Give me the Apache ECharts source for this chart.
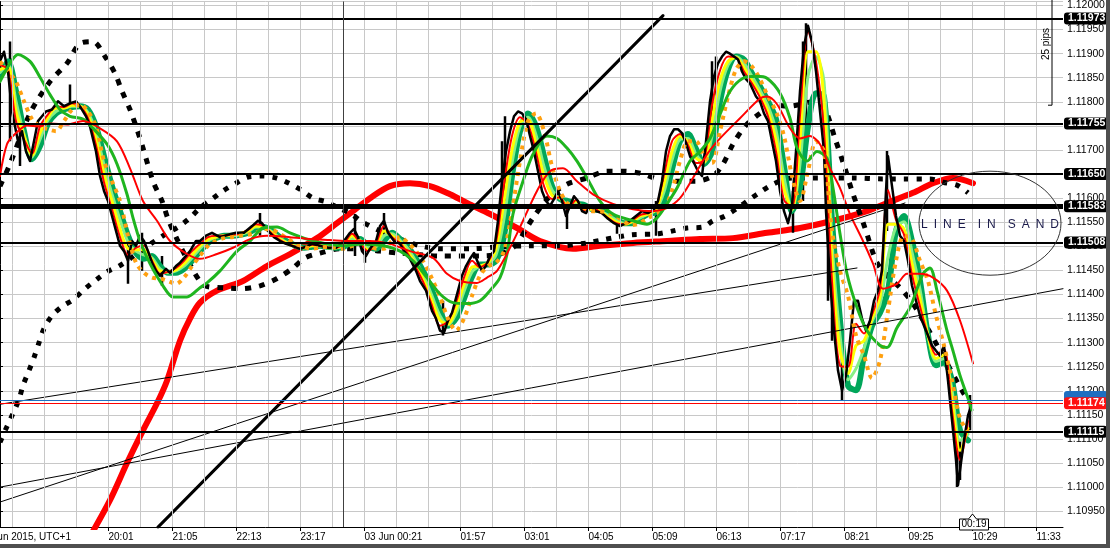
<!DOCTYPE html>
<html><head><meta charset="utf-8">
<script src="https://cdn.jsdelivr.net/npm/echarts@6/dist/echarts.min.js"></script>
<style>html,body{margin:0;padding:0;background:#fff;overflow:hidden}#c{width:1110px;height:548px}</style>
</head><body><div id="c"></div>
<script>
// ---------------- DATA ----------------
const FONT = "'Liberation Sans', Arial, sans-serif";
const Y_MIN = 1.1091718, Y_MAX = 1.1200828;
const X_MIN = 0, X_MAX = 1063;

const timeTickBars = [108.5,172.5,236.5,300.5,364.5,460.5,524.5,588.5,652.5,716.5,780.5,844.5,908.5,972.5,1036.5];
const timeTickLabels = ['20:01','21:05','22:13','23:17','03 Jun 00:21','01:57','03:01','04:05','05:09','06:13','07:17','08:21','09:25','10:29','11:33'];
const gridFirstBar = 12.5, gridStepBars = 32;

// horizontal levels
const levelPrices = [1.11973, 1.11755, 1.11650, 1.11583, 1.11508, 1.11115];
const levelWidths = [2, 2, 2, 5, 2, 2];
const bidPrice = 1.11174, askPrice = 1.11181;
const daySeparatorBar = 343;

// price (close path, M1)
const priceData = [[0,1.11884],[4,1.11904],[8,1.11863],[12,1.11780],[18,1.11718],[22,1.11739],[26,1.11697],[30,1.11677],[34,1.11718],[38,1.11760],[42,1.11770],[46,1.11780],[52,1.11784],[58,1.11801],[64,1.11791],[70,1.11797],[76,1.11801],[82,1.11784],[86,1.11770],[90,1.11749],[96,1.11697],[100,1.11646],[104,1.11615],[108,1.11594],[112,1.11563],[116,1.11532],[120,1.11501],[124,1.11490],[128,1.11470],[132,1.11511],[136,1.11501],[140,1.11522],[144,1.11511],[148,1.11490],[152,1.11466],[156,1.11449],[160,1.11439],[166,1.11453],[170,1.11445],[176,1.11459],[180,1.11466],[186,1.11480],[190,1.11490],[196,1.11511],[200,1.11511],[206,1.11522],[212,1.11528],[220,1.11519],[228,1.11524],[236,1.11528],[244,1.11528],[252,1.11542],[258,1.11553],[262,1.11548],[268,1.11532],[274,1.11519],[280,1.11511],[286,1.11505],[292,1.11501],[300,1.11495],[306,1.11499],[312,1.11505],[320,1.11501],[328,1.11497],[336,1.11497],[344,1.11511],[350,1.11528],[354,1.11536],[358,1.11519],[362,1.11490],[366,1.11480],[370,1.11495],[376,1.11511],[380,1.11542],[384,1.11553],[388,1.11528],[394,1.11511],[400,1.11505],[404,1.11490],[410,1.11474],[416,1.11449],[420,1.11428],[426,1.11408],[432,1.11366],[436,1.11350],[440,1.11325],[444,1.11321],[448,1.11346],[452,1.11362],[458,1.11408],[462,1.11439],[466,1.11459],[470,1.11474],[474,1.11486],[478,1.11466],[482,1.11449],[486,1.11459],[490,1.11480],[494,1.11490],[498,1.11553],[502,1.11635],[506,1.11697],[510,1.11739],[514,1.11770],[518,1.11780],[522,1.11776],[526,1.11764],[530,1.11729],[534,1.11697],[538,1.11656],[542,1.11615],[546,1.11594],[550,1.11584],[554,1.11598],[558,1.11615],[562,1.11594],[566,1.11563],[570,1.11584],[574,1.11604],[578,1.11594],[582,1.11573],[586,1.11569],[590,1.11584],[596,1.11573],[602,1.11569],[608,1.11557],[614,1.11548],[620,1.11542],[626,1.11548],[630,1.11553],[636,1.11563],[642,1.11573],[648,1.11569],[654,1.11577],[658,1.11594],[662,1.11635],[666,1.11697],[670,1.11729],[674,1.11743],[678,1.11743],[682,1.11735],[686,1.11714],[690,1.11687],[694,1.11673],[698,1.11656],[702,1.11646],[706,1.11718],[710,1.11801],[714,1.11853],[718,1.11880],[722,1.11894],[726,1.11904],[730,1.11900],[734,1.11894],[738,1.11888],[742,1.11863],[746,1.11847],[750,1.11838],[756,1.11811],[760,1.11801],[764,1.11776],[768,1.11760],[772,1.11718],[776,1.11677],[780,1.11615],[784,1.11573],[788,1.11548],[792,1.11584],[796,1.11697],[800,1.11822],[804,1.11915],[808,1.11958],[812,1.11925],[816,1.11863],[820,1.11780],[824,1.11697],[826,1.11573],[830,1.11428],[834,1.11325],[838,1.11242],[842,1.11201],[846,1.11232],[850,1.11304],[854,1.11387],[858,1.11387],[862,1.11350],[866,1.11325],[870,1.11346],[874,1.11387],[878,1.11408],[882,1.11449],[886,1.11615],[888,1.11687],[892,1.11625],[896,1.11563],[900,1.11522],[904,1.11511],[908,1.11470],[912,1.11418],[916,1.11387],[920,1.11356],[924,1.11335],[928,1.11315],[932,1.11294],[936,1.11283],[940,1.11273],[944,1.11294],[948,1.11221],[952,1.11139],[956,1.11056],[958,1.11004],[960,1.11035],[964,1.11097],[968,1.11149],[972,1.11174]];
// bar high/low spikes [bar, high, low]
const priceWicks = [[10,1.11925,1.11718],[20,1.11760,1.11667],[70,1.11836,1.11780],[128,1.11511,1.11422],[142,1.11528,1.11449],[162,1.11480,1.11418],[260,1.11569,1.11522],[355,1.11567,1.11480],[365,1.11511,1.11466],[384,1.11569,1.11511],[443,1.11387,1.11315],[502,1.11718,1.11490],[505,1.11770,1.11594],[567,1.11594,1.11536],[617,1.11563,1.11526],[656,1.11594,1.11522],[712,1.11884,1.11698],[716,1.11894,1.11780],[793,1.11615,1.11528],[803,1.11925,1.11594],[806,1.11963,1.11698],[828,1.11698,1.11387],[832,1.11553,1.11304],[842,1.11284,1.11180],[887,1.11698,1.11532],[957,1.11118,1.11000],[960,1.11097,1.11015],[970,1.11191,1.11118]];

// fast ribbon averages, sampled every 8 bars from bar 0
const ribbonRed = [1.11876,1.11867,1.11760,1.11722,1.11693,1.11749,1.11774,1.11791,1.11789,1.11797,1.11791,1.11766,1.11710,1.11633,1.11577,1.11519,1.11482,1.11497,1.11501,1.11470,1.11443,1.11447,1.11455,1.11470,1.11490,1.11505,1.11519,1.11522,1.11522,1.11524,1.11526,1.11534,1.11546,1.11542,1.11526,1.11513,1.11505,1.11499,1.11497,1.11503,1.11501,1.11497,1.11497,1.11507,1.11526,1.11507,1.11490,1.11507,1.11542,1.11519,1.11507,1.11484,1.11455,1.11422,1.11377,1.11335,1.11344,1.11383,1.11435,1.11470,1.11457,1.11468,1.11509,1.11629,1.11729,1.11768,1.11753,1.11695,1.11625,1.11598,1.11602,1.11577,1.11596,1.11575,1.11580,1.11571,1.11559,1.11548,1.11546,1.11553,1.11565,1.11569,1.11582,1.11648,1.11718,1.11733,1.11710,1.11673,1.11679,1.11793,1.11865,1.11894,1.11892,1.11863,1.11838,1.11809,1.11770,1.11697,1.11596,1.11582,1.11772,1.11946,1.11884,1.11739,1.11428,1.11252,1.11250,1.11339,1.11319,1.11358,1.11412,1.11617,1.11555,1.11524,1.11441,1.11375,1.11315,1.11275,1.11286,1.11159,1.11056,1.11137];
const ribbonYellow = [1.11867,1.11873,1.11780,1.11729,1.11689,1.11735,1.11768,1.11787,1.11787,1.11793,1.11791,1.11772,1.11722,1.11650,1.11594,1.11536,1.11495,1.11493,1.11493,1.11472,1.11449,1.11447,1.11451,1.11464,1.11482,1.11501,1.11515,1.11519,1.11522,1.11524,1.11526,1.11532,1.11542,1.11540,1.11528,1.11515,1.11505,1.11499,1.11497,1.11501,1.11501,1.11497,1.11497,1.11505,1.11522,1.11509,1.11493,1.11503,1.11532,1.11522,1.11509,1.11488,1.11462,1.11428,1.11387,1.11346,1.11339,1.11370,1.11420,1.11457,1.11459,1.11466,1.11495,1.11594,1.11700,1.11758,1.11762,1.11712,1.11646,1.11606,1.11600,1.11584,1.11594,1.11577,1.11577,1.11573,1.11561,1.11551,1.11546,1.11551,1.11563,1.11567,1.11577,1.11629,1.11697,1.11729,1.11716,1.11683,1.11675,1.11762,1.11844,1.11884,1.11892,1.11871,1.11844,1.11815,1.11780,1.11720,1.11619,1.11577,1.11720,1.11904,1.11904,1.11801,1.11470,1.11283,1.11236,1.11294,1.11304,1.11350,1.11395,1.11546,1.11546,1.11536,1.11464,1.11391,1.11315,1.11267,1.11275,1.11180,1.11076,1.11122];
const ribbonLightGreen = [1.11861,1.11878,1.11801,1.11733,1.11685,1.11722,1.11762,1.11780,1.11787,1.11791,1.11791,1.11778,1.11737,1.11669,1.11608,1.11555,1.11509,1.11490,1.11482,1.11476,1.11453,1.11445,1.11449,1.11459,1.11476,1.11495,1.11511,1.11519,1.11522,1.11522,1.11524,1.11530,1.11540,1.11540,1.11530,1.11517,1.11507,1.11501,1.11497,1.11501,1.11501,1.11499,1.11497,1.11501,1.11515,1.11513,1.11497,1.11499,1.11522,1.11526,1.11513,1.11495,1.11468,1.11437,1.11397,1.11356,1.11337,1.11360,1.11406,1.11447,1.11459,1.11464,1.11482,1.11557,1.11673,1.11749,1.11768,1.11731,1.11666,1.11617,1.11600,1.11588,1.11590,1.11582,1.11577,1.11573,1.11565,1.11555,1.11548,1.11551,1.11559,1.11567,1.11575,1.11613,1.11679,1.11722,1.11724,1.11691,1.11673,1.11729,1.11822,1.11876,1.11894,1.11880,1.11853,1.11824,1.11791,1.11741,1.11644,1.11575,1.11671,1.11853,1.11894,1.11842,1.11511,1.11315,1.11223,1.11246,1.11288,1.11344,1.11379,1.11478,1.11540,1.11551,1.11488,1.11410,1.11315,1.11261,1.11267,1.11201,1.11097,1.11110];
const ribbonDarkGreen = [1.11853,1.11884,1.11822,1.11739,1.11681,1.11708,1.11755,1.11776,1.11784,1.11789,1.11791,1.11784,1.11749,1.11687,1.11625,1.11573,1.11522,1.11486,1.11474,1.11480,1.11459,1.11445,1.11445,1.11453,1.11470,1.11490,1.11507,1.11517,1.11522,1.11522,1.11524,1.11528,1.11536,1.11540,1.11532,1.11519,1.11509,1.11501,1.11497,1.11499,1.11501,1.11499,1.11497,1.11499,1.11511,1.11515,1.11501,1.11495,1.11511,1.11528,1.11515,1.11499,1.11474,1.11445,1.11408,1.11366,1.11335,1.11350,1.11391,1.11437,1.11462,1.11462,1.11470,1.11522,1.11646,1.11739,1.11776,1.11749,1.11687,1.11625,1.11598,1.11594,1.11588,1.11586,1.11577,1.11575,1.11567,1.11557,1.11548,1.11548,1.11557,1.11567,1.11571,1.11594,1.11660,1.11718,1.11733,1.11702,1.11671,1.11697,1.11801,1.11867,1.11894,1.11888,1.11859,1.11832,1.11801,1.11764,1.11666,1.11573,1.11621,1.11749,1.11818,1.11811,1.11553,1.11346,1.11211,1.11201,1.11273,1.11335,1.11362,1.11408,1.11532,1.11563,1.11511,1.11428,1.11315,1.11253,1.11259,1.11221,1.11118,1.11097];
const ribbonOrange = [1.11884,1.11863,1.11842,1.11801,1.11764,1.11749,1.11743,1.11739,1.11760,1.11784,1.11795,1.11780,1.11749,1.11677,1.11635,1.11594,1.11522,1.11466,1.11445,1.11435,1.11433,1.11428,1.11422,1.11435,1.11459,1.11480,1.11501,1.11511,1.11517,1.11519,1.11522,1.11524,1.11528,1.11536,1.11534,1.11526,1.11515,1.11505,1.11499,1.11495,1.11497,1.11499,1.11497,1.11495,1.11501,1.11511,1.11507,1.11495,1.11495,1.11511,1.11519,1.11507,1.11490,1.11466,1.11433,1.11395,1.11350,1.11325,1.11350,1.11397,1.11439,1.11459,1.11466,1.11490,1.11573,1.11677,1.11760,1.11776,1.11739,1.11666,1.11615,1.11588,1.11584,1.11580,1.11573,1.11573,1.11569,1.11563,1.11551,1.11544,1.11548,1.11559,1.11567,1.11577,1.11615,1.11677,1.11718,1.11718,1.11687,1.11673,1.11739,1.11811,1.11867,1.11884,1.11873,1.11847,1.11811,1.11780,1.11729,1.11646,1.11594,1.11656,1.11718,1.11697,1.11532,1.11449,1.11397,1.11315,1.11273,1.11226,1.11263,1.11366,1.11470,1.11522,1.11515,1.11470,1.11428,1.11356,1.11294,1.11221,1.11143,1.11114];

// slower averages [bar, price]
const greenMid = [[0,1.11842],[10,1.11880],[18,1.11898],[30,1.11884],[40,1.11851],[50,1.11815],[60,1.11784],[70,1.11770],[83,1.11764],[93,1.11745],[107,1.11712],[117,1.11671],[127,1.11608],[133,1.11559],[140,1.11511],[150,1.11464],[163,1.11418],[173,1.11395],[187,1.11395],[200,1.11414],[207,1.11424],[220,1.11449],[237,1.11490],[250,1.11511],[263,1.11538],[277,1.11540],[290,1.11528],[307,1.11515],[327,1.11505],[343,1.11501],[363,1.11505],[383,1.11501],[400,1.11490],[413,1.11470],[427,1.11435],[440,1.11401],[453,1.11383],[467,1.11381],[480,1.11387],[490,1.11408],[500,1.11435],[507,1.11484],[513,1.11567],[523,1.11635],[533,1.11691],[547,1.11729],[557,1.11724],[567,1.11704],[577,1.11677],[587,1.11642],[600,1.11594],[613,1.11567],[633,1.11553],[647,1.11546],[657,1.11559],[667,1.11588],[677,1.11621],[690,1.11677],[700,1.11697],[710,1.11724],[720,1.11774],[730,1.11822],[743,1.11849],[757,1.11853],[767,1.11849],[780,1.11818],[790,1.11766],[797,1.11704],[807,1.11677],[817,1.11697],[827,1.11683],[833,1.11621],[840,1.11526],[847,1.11443],[857,1.11373],[867,1.11325],[880,1.11294],[887,1.11290],[897,1.11331],[910,1.11373],[923,1.11443],[930,1.11455],[937,1.11408],[947,1.11325],[953,1.11283],[960,1.11232],[967,1.11190],[972,1.11160]];
const redSlow = [[0,1.11646],[7,1.11712],[15,1.11733],[27,1.11751],[40,1.11749],[50,1.11755],[67,1.11753],[83,1.11760],[100,1.11745],[117,1.11718],[130,1.11662],[143,1.11594],[157,1.11553],[170,1.11511],[187,1.11484],[200,1.11474],[217,1.11484],[233,1.11497],[250,1.11515],[267,1.11522],[290,1.11519],[310,1.11515],[330,1.11513],[350,1.11511],[370,1.11511],[390,1.11505],[410,1.11490],[433,1.11476],[447,1.11443],[460,1.11428],[477,1.11424],[487,1.11435],[497,1.11449],[510,1.11497],[523,1.11553],[537,1.11615],[550,1.11656],[563,1.11662],[577,1.11635],[593,1.11608],[613,1.11588],[633,1.11577],[653,1.11573],[667,1.11580],[680,1.11600],[693,1.11642],[707,1.11691],[720,1.11724],[740,1.11766],[760,1.11807],[767,1.11811],[777,1.11795],[790,1.11745],[800,1.11724],[810,1.11729],[820,1.11712],[830,1.11662],[840,1.11621],[850,1.11567],[863,1.11511],[873,1.11464],[883,1.11412],[897,1.11422],[907,1.11443],[920,1.11443],[933,1.11435],[947,1.11408],[960,1.11346],[973,1.11257]];
const redThick = [[88,1.10890],[110,1.10973],[127,1.11050],[143,1.11118],[157,1.11174],[167,1.11221],[180,1.11304],[190,1.11350],[200,1.11383],[217,1.11408],[243,1.11428],[267,1.11459],[290,1.11484],[317,1.11517],[337,1.11548],[353,1.11573],[370,1.11600],[390,1.11625],[410,1.11631],[430,1.11625],[450,1.11608],[467,1.11590],[490,1.11567],[517,1.11538],[540,1.11511],[573,1.11495],[600,1.11501],[633,1.11507],[667,1.11511],[700,1.11515],[733,1.11517],[767,1.11528],[800,1.11538],[833,1.11553],[867,1.11573],[887,1.11590],[913,1.11611],[933,1.11631],[953,1.11642],[973,1.11631]];
const blackDotSlow = [[0,1.11093],[7,1.11126],[13,1.11153],[19,1.11182],[23,1.11211],[29,1.11242],[34,1.11269],[39,1.11300],[44,1.11329],[52,1.11356],[62,1.11375],[73,1.11389],[85,1.11412],[96,1.11430],[107,1.11447],[119,1.11459],[130,1.11474],[142,1.11493],[155,1.11511],[166,1.11526],[178,1.11540],[190,1.11559],[200,1.11580],[212,1.11598],[223,1.11615],[236,1.11631],[248,1.11644],[263,1.11646],[276,1.11642],[289,1.11631],[301,1.11617],[313,1.11600],[327,1.11592],[338,1.11580],[350,1.11569],[362,1.11551],[380,1.11532],[400,1.11515],[420,1.11501],[440,1.11495],[470,1.11495],[500,1.11499],[530,1.11501],[560,1.11501],[587,1.11507],[602,1.11513],[617,1.11519],[632,1.11524],[658,1.11526],[673,1.11532],[687,1.11538],[703,1.11540],[713,1.11553],[725,1.11563],[738,1.11580],[750,1.11598],[762,1.11615],[773,1.11629],[786,1.11640],[800,1.11642],[830,1.11642],[853,1.11642],[883,1.11640],[913,1.11640],[930,1.11640],[943,1.11633],[957,1.11627],[968,1.11611]];
const blackDotFast = [[0,1.11625],[10,1.11671],[30,1.11776],[50,1.11842],[67,1.11880],[80,1.11921],[93,1.11925],[105,1.11894],[115,1.11859],[122,1.11822],[130,1.11784],[137,1.11743],[143,1.11704],[153,1.11635],[162,1.11594],[168,1.11557],[177,1.11515],[188,1.11470],[205,1.11418],[222,1.11414],[242,1.11412],[260,1.11418],[277,1.11433],[293,1.11455],[305,1.11476],[320,1.11486],[340,1.11495],[360,1.11495],[380,1.11490],[400,1.11486],[440,1.11480],[480,1.11480],[500,1.11484],[515,1.11501],[533,1.11559],[550,1.11604],[567,1.11629],[587,1.11642],[607,1.11656],[622,1.11656],[640,1.11652],[657,1.11640],[675,1.11635],[695,1.11635],[713,1.11646],[723,1.11671],[733,1.11712],[745,1.11749],[760,1.11776],[775,1.11793],[790,1.11791],[805,1.11797],[815,1.11801],[825,1.11784],[835,1.11724],[845,1.11662],[852,1.11615],[865,1.11538],[877,1.11466],[890,1.11433],[900,1.11414],[913,1.11381],[930,1.11321],[947,1.11257],[963,1.11197],[970,1.11176]];

// trend lines [bar, price]
const trendThick = [[158,1.10917],[663,1.11979]];
const trendA = [[0,1.11172],[857,1.11455]];
const trendB = [[0,1.10969],[905,1.11590]];
const trendC = [[0,1.11000],[1063,1.11412]];

// annotations
const sandEllipse = {bar: 990, price: 1.11548, halfBars: 71, halfPrice: 0.00108};
const pipsBracket = {bar: 1052, bottomPrice: 1.11793, text: '25 pips'};

// ---------------- CHART ----------------
const ribbonBars = ribbonRed.map((_, i) => i * 8);
const pair = arr => arr.map((v, i) => [ribbonBars[i], v]);
const wickData = [];
priceWicks.forEach(w => { wickData.push([w[0], w[1]], [w[0], w[2]], [w[0], '-']); });
const gridBars = [];
for (let b = gridFirstBar; b < X_MAX; b += gridStepBars) gridBars.push(b);
const chart = echarts.init(document.getElementById('c'), null, {renderer: 'canvas'});

function lineS(data, color, width, opts) {
  return Object.assign({
    type: 'line', data, symbol: 'none', silent: true, animation: false,
    lineStyle: {color, width, cap: 'round', join: 'round'}, clip: true
  }, opts || {});
}
function dotted(data, color, width, dash) {
  return lineS(data, color, width, {smooth: 0.3, lineStyle: {color, width, type: dash, cap: 'butt'}});
}

const tagLabel = (txt, bg, fg) => ({
  show: true, position: 'end', distance: 1, formatter: txt,
  color: fg || '#fff', backgroundColor: bg, fontSize: 10.5, fontWeight: 'bold', fontFamily: FONT,
  padding: [1, 3, 0, 4], borderRadius: 3
});

const markData = [];
markData.push({yAxis: askPrice, lineStyle: {color: '#1f6fc1', width: 1, type: 'solid'}, label: Object.assign(tagLabel(askPrice.toFixed(5), '#1f6fc1', '#1f6fc1'), {offset: [0, -3]})});
markData.push({yAxis: bidPrice, lineStyle: {color: '#ff0000', width: 1, type: 'solid'}, label: tagLabel(bidPrice.toFixed(5), '#ff1010')});
levelPrices.forEach((p, i) => markData.push({yAxis: p, lineStyle: {color: '#000', width: levelWidths[i], type: 'solid'}, label: tagLabel(p.toFixed(5), '#000')}));

const tickMap = {};
timeTickBars.forEach((b, i) => tickMap[b] = timeTickLabels[i]);

const option = {
  animation: false,
  backgroundColor: '#ffffff',
  grid: {left: 0, right: 47, top: 0, bottom: 21, containLabel: false},
  xAxis: {
    type: 'value', min: X_MIN, max: X_MAX,
    axisLine: {show: true, onZero: false, lineStyle: {color: '#000', width: 1}},
    axisTick: {show: true, length: 4, lineStyle: {color: '#000'}, customValues: timeTickBars},
    axisLabel: {show: true, customValues: timeTickBars, formatter: v => tickMap[v] || '', align: 'left', margin: 5,
      color: '#000', fontSize: 10, fontFamily: FONT, showMinLabel: true, showMaxLabel: true},
    splitLine: {show: false}
  },
  yAxis: {
    type: 'value', position: 'right', min: Y_MIN, max: Y_MAX, splitNumber: 22, minInterval: 0.0005, maxInterval: 0.0005,
    scale: true,
    axisLine: {show: true, lineStyle: {color: '#000', width: 1}},
    axisTick: {show: true, length: 3, lineStyle: {color: '#000'}},
    axisLabel: {show: true, margin: 4, color: '#000', fontSize: 10.5, fontFamily: FONT,
      formatter: v => v.toFixed(5), showMinLabel: false, showMaxLabel: false},
    splitLine: {show: true, lineStyle: {color: '#c8c8c8', width: 1}}
  },
  series: [
    Object.assign(lineS([], '#c8c8c8', 1), {
      markLine: {silent: true, animation: false, symbol: ['none', 'none'], label: {show: false},
        lineStyle: {color: '#c8c8c8', width: 1, type: 'solid'},
        data: gridBars.map(b => ({xAxis: b}))}
    }),
    lineS(redThick, '#ff0000', 6, {smooth: 0.3}),
    dotted(blackDotSlow, '#000', 5, [5, 8]),
    dotted(blackDotFast, '#000', 5, [6, 8]),
    lineS(wickData, '#000', 2.5, {connectNulls: false, lineStyle: {color: '#000', width: 2.5, cap: 'butt'}}),
    lineS(pair(ribbonDarkGreen), '#00a65a', 6, {smooth: 0.3}),
    lineS(pair(ribbonLightGreen), '#86f086', 3, {smooth: 0.3}),
    lineS(pair(ribbonYellow), '#ffff00', 3, {smooth: 0.3}),
    lineS(pair(ribbonRed), '#ff0000', 2, {smooth: 0.3}),
    lineS(priceData, '#000', 2.5),
    dotted(pair(ribbonOrange), '#ffa010', 4, [4, 5]),
    lineS(greenMid, '#1fb51f', 3, {smooth: 0.3}),
    lineS(redSlow, '#ff0000', 2, {smooth: 0.3}),
    lineS(trendThick, '#000', 3),
    lineS(trendA, '#000', 1),
    lineS(trendB, '#000', 1),
    Object.assign(lineS(trendC, '#000', 1), {
      markLine: {silent: true, animation: false, symbol: ['none', 'none'], precision: 5,
        data: markData.concat([{xAxis: daySeparatorBar, lineStyle: {color: '#404040', width: 1, type: 'solid'}, label: {show: false}}])}
    })
  ]
};
chart.setOption(option);

// annotations positioned through the chart's own scales
const px = (b, p) => chart.convertToPixel({xAxisIndex: 0, yAxisIndex: 0}, [b, p]);
const c0 = px(sandEllipse.bar, sandEllipse.price);
const cTop = px(sandEllipse.bar + sandEllipse.halfBars, sandEllipse.price + sandEllipse.halfPrice);
const rx = cTop[0] - c0[0], ry = c0[1] - cTop[1];
const br = px(pipsBracket.bar, pipsBracket.bottomPrice);
const tb = px(972.5, Y_MIN);
const gapE = '\u2002';
const sandText = ['LINE', 'IN', 'SAND'].map(w => w.split('').join(gapE)).join(gapE + gapE);

chart.setOption({graphic: [
  {type: 'ellipse', z: 100, silent: true, shape: {cx: c0[0], cy: c0[1], rx: rx, ry: ry},
    style: {fill: 'none', stroke: '#333', lineWidth: 1}},
  {type: 'text', z: 101, silent: true, x: c0[0], y: c0[1] + 1,
    style: {text: sandText, fill: '#1a1a4a', font: '12px ' + FONT, align: 'center', verticalAlign: 'middle'}},
  {type: 'polyline', z: 100, silent: true, shape: {points: [[br[0], 0], [br[0], br[1]], [br[0] - 4, br[1]]]},
    style: {stroke: '#000', lineWidth: 1, fill: 'none'}},
  {type: 'text', z: 101, silent: true, x: br[0] - 6, y: 44, rotation: Math.PI / 2,
    style: {text: pipsBracket.text, fill: '#000', font: '10px ' + FONT, align: 'center', verticalAlign: 'middle'}},
  {type: 'polygon', z: 102, silent: true,
    shape: {points: [[tb[0] - 13, tb[1] - 8], [tb[0] - 4, tb[1] - 8], [tb[0], tb[1] - 13], [tb[0] + 4, tb[1] - 8], [tb[0] + 16, tb[1] - 8], [tb[0] + 16, tb[1] + 3], [tb[0] - 13, tb[1] + 3]]},
    style: {fill: '#fff', stroke: '#000', lineWidth: 1}},
  {type: 'text', z: 103, silent: true, x: tb[0] + 1.5, y: tb[1] - 2.5,
    style: {text: '00:19', fill: '#000', font: '10px ' + FONT, align: 'center', verticalAlign: 'middle'}},
  {type: 'text', z: 101, silent: true, x: 71, y: 537,
    style: {text: '2 Jun 2015, UTC+1', fill: '#000', font: '10px ' + FONT, align: 'right', verticalAlign: 'middle'}},
  {type: 'rect', z: 110, silent: true, shape: {x: 1106, y: 0, width: 4, height: 548}, style: {fill: '#4f4f4f'}},
  {type: 'rect', z: 110, silent: true, shape: {x: 0, y: 544, width: 1110, height: 4}, style: {fill: '#4f4f4f'}}
]});
</script></body></html>
